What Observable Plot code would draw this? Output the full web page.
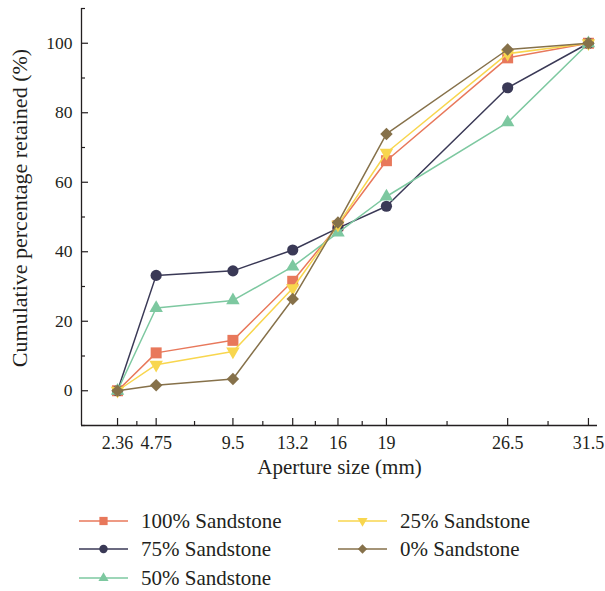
<!DOCTYPE html>
<html>
<head>
<meta charset="utf-8">
<script src="https://cdn.jsdelivr.net/npm/d3@7"></script>
<script src="https://cdn.jsdelivr.net/npm/@observablehq/plot@0.6"></script>
<style>
  body { margin: 0; background: white; }
  #wrap { width: 605px; height: 591px; }
  #wrap svg { display: block; }
</style>
</head>
<body>
<div id="wrap"></div>
<script>
// Data
const apertures = [2.36, 4.75, 9.5, 13.2, 16, 19, 26.5, 31.5];
const s100 = [0, 10.9, 14.5, 31.5, 47.5, 66.2, 95.8, 100];
const s75  = [0, 33.2, 34.5, 40.5, 46.8, 53.1, 87.2, 100];
const s50  = [0, 23.8, 26.0, 35.7, 45.5, 55.9, 77.2, 100];
const s25  = [0, 7.5, 11.3, 29.5, 47.8, 68.5, 97.0, 100];
const s0   = [0, 1.6, 3.4, 26.4, 48.4, 73.9, 98.2, 100];
const seriesNames = ["100% Sandstone", "75% Sandstone", "50% Sandstone", "25% Sandstone", "0% Sandstone"];
const yTicks = [0, 20, 40, 60, 80, 100];
const yMinorTicks = [-10, 10, 30, 50, 70, 90, 110];
const xMinorTicks = [3.555, 7.125, 11.35, 14.6, 17.5, 22.75, 29];

const series = [
  {name: seriesNames[0], values: s100, color: "#e8785b", symbol: "square", r: 6.2, rotate: 0},
  {name: seriesNames[1], values: s75,  color: "#3a3956", symbol: "circle", r: 5.6, rotate: 0},
  {name: seriesNames[2], values: s50,  color: "#7dc8a0", symbol: "triangle", r: 5.0, rotate: 0},
  {name: seriesNames[3], values: s25,  color: "#f8d64e", symbol: "triangle", r: 5.0, rotate: 180},
  {name: seriesNames[4], values: s0,   color: "#86714a", symbol: "diamond2", r: 5.6, rotate: 0}
];

const xDomain = [0.13, 32.06];
const yDomain = [-10, 110];
const W = 605, H = 490, mL = 81, mR = 8, mT = 8, mB = 65;
const pw = W - mL - mR, ph = H - mT - mB;
const ink = "#231f20";
const FONT = "Liberation Serif, serif";

const marks = [
  Plot.gridY({ticks: yTicks, stroke: ink, strokeOpacity: 1, strokeWidth: 1.2, insetRight: pw - 7}),
  Plot.gridY({ticks: yMinorTicks, stroke: ink, strokeOpacity: 1, strokeWidth: 1.2, insetRight: pw - 4}),
  Plot.gridX({ticks: apertures, stroke: ink, strokeOpacity: 1, strokeWidth: 1.2, insetTop: ph - 7}),
  Plot.gridX({ticks: xMinorTicks, stroke: ink, strokeOpacity: 1, strokeWidth: 1.2, insetTop: ph - 4}),
  Plot.ruleX([xDomain[0]], {stroke: ink, strokeWidth: 1.3}),
  Plot.ruleY([yDomain[0]], {stroke: ink, strokeWidth: 1.3}),
  Plot.axisY({ticks: yTicks, tickSize: 0, tickPadding: 9, label: null, fontSize: 17.5}),
  Plot.axisX({ticks: apertures, tickSize: 0, tickPadding: 11, label: null, fontSize: 18, tickFormat: d => String(d)}),
  Plot.text(["Cumulative percentage retained (%)"], {frameAnchor: "left", textAnchor: "middle", rotate: -90, dx: -62, dy: -9, fontSize: 22, fill: ink}),
  Plot.text(["Aperture size (mm)"], {frameAnchor: "bottom", textAnchor: "middle", dy: 48, fontSize: 21, fill: ink})
];

for (const s of series) {
  const data = apertures.map((a, i) => ({x: a, y: s.values[i]}));
  marks.push(Plot.line(data, {x: "x", y: "y", stroke: s.color, strokeWidth: 1.5}));
  marks.push(Plot.dot(data, {x: "x", y: "y", fill: s.color, stroke: "none", symbol: s.symbol, r: s.r, rotate: s.rotate}));
}

const chart = Plot.plot({
  width: W, height: H,
  marginLeft: mL, marginRight: mR, marginTop: mT, marginBottom: mB,
  style: {fontFamily: FONT, fontSize: "17px", color: ink, background: "white", overflow: "visible"},
  x: {domain: xDomain},
  y: {domain: yDomain},
  marks
});
const wrap = document.getElementById("wrap");
wrap.appendChild(chart);

// Legend (SVG below the chart)
const LH = 591 - H;
const leg = d3.create("svg").attr("width", W).attr("height", LH)
  .attr("font-family", FONT).attr("font-size", 21).attr("fill", ink);
const legPos = [
  {x: 79, y: 521}, {x: 79, y: 549}, {x: 79, y: 578},
  {x: 338, y: 521}, {x: 338, y: 549}
];
const symMap = {square: d3.symbolSquare, circle: d3.symbolCircle, triangle: d3.symbolTriangle, diamond2: d3.symbolDiamond2};
series.forEach((s, i) => {
  const g = leg.append("g").attr("transform", `translate(${legPos[i].x},${legPos[i].y - H})`);
  g.append("line").attr("x1", 0).attr("x2", 49).attr("y1", 0).attr("y2", 0)
    .attr("stroke", s.color).attr("stroke-width", 1.5);
  g.append("path").attr("d", d3.symbol(symMap[s.symbol], Math.PI * (s.r * 0.75) ** 2)())
    .attr("transform", `translate(24.5,0) rotate(${s.rotate})`).attr("fill", s.color);
  g.append("text").attr("x", 62).attr("y", 0).attr("dy", "0.35em").text(s.name);
});
wrap.appendChild(leg.node());
</script>
</body>
</html>
